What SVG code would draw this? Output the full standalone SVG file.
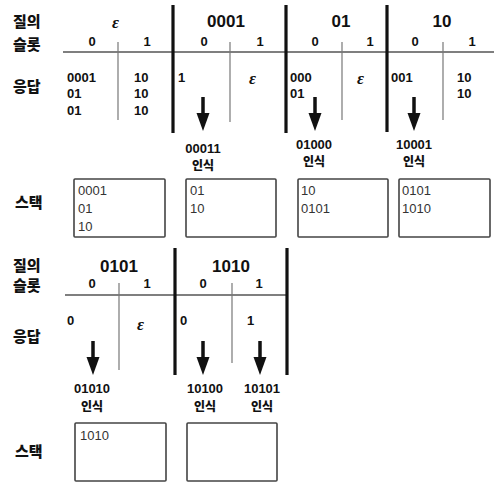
<svg xmlns="http://www.w3.org/2000/svg" width="494" height="483" viewBox="0 0 494 483">
<defs>
<style>
.ko{font-family:"Noto Sans CJK KR","Noto Sans",sans-serif;font-weight:900;font-size:15px;fill:#111}
.ko2{font-family:"Noto Sans CJK KR","Noto Sans",sans-serif;font-weight:900;font-size:12px;fill:#111;text-anchor:middle}
.hd{font-family:"Liberation Sans",Arial,sans-serif;font-weight:bold;font-size:17px;fill:#111;text-anchor:middle}
.sl{font-family:"Liberation Sans",Arial,sans-serif;font-weight:bold;font-size:13px;fill:#111;text-anchor:middle}
.rs{font-family:"Liberation Sans",Arial,sans-serif;font-weight:bold;font-size:13px;fill:#111}
.lb{font-family:"Liberation Sans",Arial,sans-serif;font-weight:bold;font-size:13px;fill:#111;text-anchor:middle}
.st{font-family:"Liberation Sans",Arial,sans-serif;font-size:13px;fill:#333}
.ep{font-family:"Liberation Serif","Times New Roman",serif;font-style:italic;font-weight:bold;font-size:17px;fill:#111}
.thick{stroke:#111;stroke-width:3.2;fill:none}
.thin{stroke:#777;stroke-width:1.2;fill:none}
.hl{stroke:#555;stroke-width:1.5;fill:none}
.box{stroke:#444;stroke-width:1.6;fill:#fff}
.shaft{stroke:#111;stroke-width:3.5}
</style>
<g id="arrow"><line class="shaft" x1="0" y1="0" x2="0" y2="18"/><polygon points="-6.5,16 6.5,16 0,34" fill="#111"/></g>
</defs>

<g id="row-labels">
<text class="ko" x="13" y="27">질의</text>
<text class="ko" x="13" y="50">슬롯</text>
<text class="ko" x="13" y="92">응답</text>
<text class="ko" x="15" y="208">스택</text>
<text class="ko" x="13" y="271">질의</text>
<text class="ko" x="13" y="291">슬롯</text>
<text class="ko" x="13" y="342">응답</text>
<text class="ko" x="15" y="457">스택</text>
</g>

<g id="grid-lines">
<line class="hl" x1="63" y1="52" x2="494" y2="52"/>
<line class="thick" x1="173" y1="5" x2="173" y2="133"/>
<line class="thick" x1="286" y1="5" x2="286" y2="133"/>
<line class="thick" x1="387" y1="5" x2="387" y2="132"/>
<line class="thin" x1="118" y1="42" x2="118" y2="120"/>
<line class="thin" x1="230" y1="42" x2="230" y2="122"/>
<line class="thin" x1="342" y1="42" x2="342" y2="120"/>
<line class="thin" x1="443" y1="42" x2="443" y2="120"/>
<line class="hl" x1="65" y1="295" x2="288" y2="295"/>
<line class="thick" x1="175" y1="248" x2="175" y2="375"/>
<line class="thick" x1="287" y1="248" x2="287" y2="375"/>
<line class="thin" x1="119" y1="283" x2="119" y2="370"/>
<line class="thin" x1="232" y1="283" x2="232" y2="363"/>
</g>

<g id="q-eps">
<text class="ep" x="112" y="28">ε</text>
<text class="sl" x="92" y="46">0</text><text class="sl" x="147" y="46">1</text>
<text class="rs" x="67" y="82">0001</text><text class="rs" x="67" y="98">01</text><text class="rs" x="67" y="115">01</text>
<text class="rs" x="134" y="82">10</text><text class="rs" x="134" y="98">10</text><text class="rs" x="134" y="115">10</text>
</g>

<g id="q-0001">
<text class="hd" x="226" y="27">0001</text>
<text class="sl" x="204" y="46">0</text><text class="sl" x="260" y="46">1</text>
<text class="rs" x="178" y="82">1</text>
<text class="ep" x="249" y="84">ε</text>
<use href="#arrow" x="203" y="97"/>
<text class="lb" x="203" y="153">00011</text><text class="ko2" x="203" y="170">인식</text>
</g>

<g id="q-01">
<text class="hd" x="341" y="27">01</text>
<text class="sl" x="315" y="46">0</text><text class="sl" x="370" y="46">1</text>
<text class="rs" x="290" y="82">000</text><text class="rs" x="290" y="98">01</text>
<text class="ep" x="357" y="84">ε</text>
<use href="#arrow" x="315" y="97"/>
<text class="lb" x="314" y="149">01000</text><text class="ko2" x="314" y="166">인식</text>
</g>

<g id="q-10">
<text class="hd" x="442" y="27">10</text>
<text class="sl" x="415" y="46">0</text><text class="sl" x="472" y="46">1</text>
<text class="rs" x="391" y="82">001</text>
<text class="rs" x="457" y="82">10</text><text class="rs" x="457" y="98">10</text>
<use href="#arrow" x="414" y="97"/>
<text class="lb" x="414" y="149">10001</text><text class="ko2" x="414" y="166">인식</text>
</g>

<g id="stack-1"><rect class="box" x="74" y="179" width="91" height="58" rx="1"/>
<text class="st" x="78" y="195">0001</text><text class="st" x="78" y="213">01</text><text class="st" x="78" y="231">10</text></g>
<g id="stack-2"><rect class="box" x="186" y="179" width="90" height="58" rx="1"/>
<text class="st" x="190" y="195">01</text><text class="st" x="190" y="213">10</text></g>
<g id="stack-3"><rect class="box" x="298" y="179" width="90" height="58" rx="1"/>
<text class="st" x="301" y="195">10</text><text class="st" x="301" y="213">0101</text></g>
<g id="stack-4"><rect class="box" x="399" y="179" width="91" height="58" rx="1"/>
<text class="st" x="402" y="195">0101</text><text class="st" x="402" y="213">1010</text></g>

<g id="q-0101">
<text class="hd" x="119" y="272">0101</text>
<text class="sl" x="92" y="288">0</text><text class="sl" x="147" y="288">1</text>
<text class="rs" x="67" y="325">0</text>
<text class="ep" x="137" y="330">ε</text>
<use href="#arrow" x="93" y="341"/>
<text class="lb" x="92" y="393">01010</text><text class="ko2" x="92" y="411">인식</text>
</g>

<g id="q-1010">
<text class="hd" x="231" y="272">1010</text>
<text class="sl" x="203" y="288">0</text><text class="sl" x="259" y="288">1</text>
<text class="rs" x="180" y="325">0</text>
<text class="rs" x="247" y="325">1</text>
<use href="#arrow" x="203" y="341"/>
<use href="#arrow" x="260" y="341"/>
<text class="lb" x="205" y="393">10100</text><text class="ko2" x="205" y="411">인식</text>
<text class="lb" x="262" y="393">10101</text><text class="ko2" x="262" y="411">인식</text>
</g>

<g id="stack-5"><rect class="box" x="75" y="423" width="91" height="58" rx="1"/>
<text class="st" x="80" y="440">1010</text></g>
<g id="stack-6"><rect class="box" x="187" y="423" width="90" height="58" rx="1"/></g>
</svg>
